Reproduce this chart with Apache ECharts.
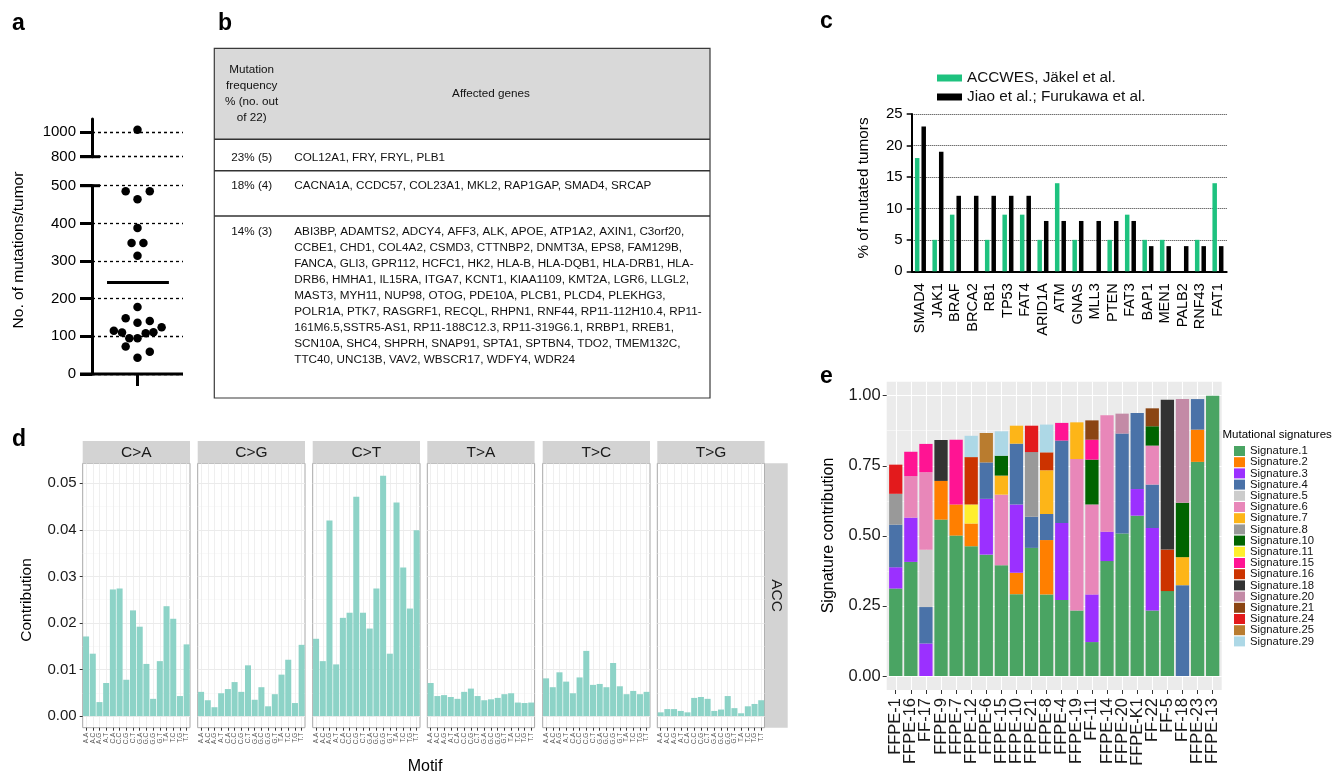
<!DOCTYPE html>
<html lang="en">
<head>
<meta charset="UTF-8">
<title>ACC mutational landscape</title>
<script src="https://cdn.jsdelivr.net/npm/echarts@6.0.0/dist/echarts.min.js"></script>
<style>
  html, body { margin: 0; padding: 0; background: #fff; }
  #fig { width: 1336px; height: 775px; }
</style>
</head>
<body>
<div id="fig"></div>
<script>
// ---------- data ----------
// a: mutations per tumor (beeswarm offsets)
const mutCounts = [1020, 485, 485, 464, 388, 348, 348, 314, 178, 148, 136, 141, 115, 110, 124, 111, 108, 95, 95, 73, 59, 43];
const mutJitter = [0, -0.26, 0.27, 0, 0, -0.13, 0.13, 0, 0, -0.26, 0, 0.27, -0.52, -0.34, 0.53, 0.35, 0.18, -0.18, 0, -0.26, 0.27, 0];
const aUpperTicks = [800, 1000];

// b: table
const freqHeader = ['Mutation', 'frequency', '% (no. out', 'of 22)'];
const freqLabels = ['23% (5)', '18% (4)', '14% (3)'];
const genes23 = ['COL12A1, FRY, FRYL, PLB1'];
const genes18 = ['CACNA1A, CCDC57, COL23A1, MKL2, RAP1GAP, SMAD4, SRCAP'];
const genes14 = [
  'ABI3BP, ADAMTS2, ADCY4, AFF3, ALK, APOE, ATP1A2, AXIN1, C3orf20,',
  'CCBE1, CHD1, COL4A2, CSMD3, CTTNBP2, DNMT3A, EPS8, FAM129B,',
  'FANCA, GLI3, GPR112, HCFC1, HK2, HLA-B, HLA-DQB1, HLA-DRB1, HLA-',
  'DRB6, HMHA1, IL15RA, ITGA7, KCNT1, KIAA1109, KMT2A, LGR6, LLGL2,',
  'MAST3, MYH11, NUP98, OTOG, PDE10A, PLCB1, PLCD4, PLEKHG3,',
  'POLR1A, PTK7, RASGRF1, RECQL, RHPN1, RNF44, RP11-112H10.4, RP11-',
  '161M6.5,SSTR5-AS1, RP11-188C12.3, RP11-319G6.1, RRBP1, RREB1,',
  'SCN10A, SHC4, SHPRH, SNAP91, SPTA1, SPTBN4, TDO2, TMEM132C,',
  'TTC40, UNC13B, VAV2, WBSCR17, WDFY4, WDR24'
];

// c: % of mutated tumors
const genesC = ['SMAD4', 'JAK1', 'BRAF', 'BRCA2', 'RB1', 'TP53', 'FAT4', 'ARID1A', 'ATM', 'GNAS', 'MLL3', 'PTEN', 'FAT3', 'BAP1', 'MEN1', 'PALB2', 'RNF43', 'FAT1'];
const accwesPct = [18, 5, 9, 0, 5, 9, 9, 5, 14, 5, 0, 5, 9, 5, 5, 0, 5, 14];
const jiaoPct = [23, 19, 12, 12, 12, 12, 12, 8, 8, 8, 8, 8, 8, 4, 4, 4, 4, 4];

// d: 96-channel profile
const mutTypes = ['C>A', 'C>G', 'C>T', 'T>A', 'T>C', 'T>G'];
const motifs = ['A.A', 'A.C', 'A.G', 'A.T', 'C.A', 'C.C', 'C.G', 'C.T', 'G.A', 'G.C', 'G.G', 'G.T', 'T.A', 'T.C', 'T.G', 'T.T'];
const contribCA = [0.0171, 0.0134, 0.0030, 0.0071, 0.0272, 0.0274, 0.0078, 0.0227, 0.0192, 0.0112, 0.0037, 0.0118, 0.0236, 0.0209, 0.0043, 0.0154];
const contribCG = [0.0052, 0.0034, 0.0019, 0.0049, 0.0058, 0.0073, 0.0052, 0.0109, 0.0035, 0.0062, 0.0021, 0.0047, 0.0089, 0.0121, 0.0028, 0.0153];
const contribCT = [0.0166, 0.0118, 0.0420, 0.0111, 0.0211, 0.0222, 0.0471, 0.0222, 0.0188, 0.0274, 0.0516, 0.0134, 0.0459, 0.0319, 0.0231, 0.0399];
const contribTA = [0.0071, 0.0043, 0.0045, 0.0041, 0.0037, 0.0052, 0.0059, 0.0043, 0.0034, 0.0036, 0.0039, 0.0047, 0.0049, 0.0029, 0.0028, 0.0029];
const contribTC = [0.0081, 0.0062, 0.0094, 0.0074, 0.0049, 0.0083, 0.0140, 0.0067, 0.0069, 0.0062, 0.0114, 0.0064, 0.0047, 0.0054, 0.0047, 0.0052];
const contribTG = [0.0008, 0.0015, 0.0015, 0.0011, 0.0008, 0.0039, 0.0041, 0.0037, 0.0011, 0.0014, 0.0043, 0.0017, 0.0006, 0.0021, 0.0026, 0.0034];
const dMajor = [0, 0.01, 0.02, 0.03, 0.04, 0.05];
const dMinor = [0.005, 0.015, 0.025, 0.035, 0.045];

// e: signature contributions per sample
const samples = ['FFPE-1', 'FFPE-16', 'FF-17', 'FFPE-9', 'FFPE-7', 'FFPE-12', 'FFPE-6', 'FFPE-15', 'FFPE-10', 'FFPE-21', 'FFPE-8', 'FFPE-4', 'FFPE-19', 'FF-11', 'FFPE-14', 'FFPE-20', 'FFPE-K1', 'FF-22', 'FF-5', 'FF-18', 'FFPE-23', 'FFPE-13'];
const signatures = ['Signature.1', 'Signature.2', 'Signature.3', 'Signature.4', 'Signature.5', 'Signature.6', 'Signature.7', 'Signature.8', 'Signature.10', 'Signature.11', 'Signature.15', 'Signature.16', 'Signature.18', 'Signature.20', 'Signature.21', 'Signature.24', 'Signature.25', 'Signature.29'];
const sig1  = [0.312, 0.407, 0, 0.558, 0.501, 0.463, 0.433, 0.395, 0.292, 0.457, 0.291, 0.271, 0.234, 0.121, 0.410, 0.508, 0.572, 0.234, 0.303, 0, 0.764, 1.0];
const sig2  = [0, 0, 0, 0.138, 0.111, 0.081, 0, 0, 0.076, 0, 0.194, 0, 0, 0, 0, 0, 0, 0, 0, 0, 0.115, 0];
const sig3  = [0.076, 0.158, 0.116, 0, 0, 0, 0.199, 0, 0.244, 0, 0, 0.275, 0, 0.170, 0.105, 0, 0.095, 0.294, 0, 0, 0, 0];
const sig4  = [0.152, 0, 0.130, 0, 0, 0, 0.130, 0, 0.217, 0.111, 0.093, 0.294, 0, 0, 0, 0.357, 0.271, 0.155, 0, 0.324, 0.109, 0];
const sig5  = [0, 0, 0.204, 0, 0, 0, 0, 0, 0, 0, 0, 0, 0, 0, 0, 0, 0, 0, 0, 0, 0, 0];
const sig6  = [0, 0.148, 0.277, 0, 0, 0, 0, 0.252, 0, 0, 0, 0, 0.540, 0.321, 0.415, 0, 0, 0.139, 0, 0, 0, 0];
const sig7  = [0, 0, 0, 0, 0, 0, 0, 0.068, 0.064, 0, 0.156, 0, 0.131, 0, 0, 0, 0, 0, 0, 0.100, 0, 0];
const sig8  = [0.110, 0, 0, 0, 0, 0, 0, 0, 0, 0.231, 0, 0, 0, 0, 0, 0, 0, 0, 0, 0, 0, 0];
const sig10 = [0, 0, 0, 0, 0, 0, 0, 0.071, 0, 0, 0, 0, 0, 0.160, 0, 0, 0, 0.069, 0, 0.194, 0, 0];
const sig11 = [0, 0, 0, 0, 0, 0.068, 0, 0, 0, 0, 0, 0, 0, 0, 0, 0, 0, 0, 0, 0, 0, 0];
const sig15 = [0, 0.087, 0.101, 0, 0.231, 0, 0, 0, 0, 0, 0, 0.063, 0, 0.071, 0, 0, 0, 0, 0, 0, 0, 0];
const sig16 = [0, 0, 0, 0, 0, 0.169, 0, 0, 0, 0, 0.064, 0, 0, 0, 0, 0, 0, 0, 0.148, 0, 0, 0];
const sig18 = [0, 0, 0, 0.146, 0, 0, 0, 0, 0, 0, 0, 0, 0, 0, 0, 0, 0, 0, 0.535, 0, 0, 0];
const sig20 = [0, 0, 0, 0, 0, 0, 0, 0, 0, 0, 0, 0, 0, 0, 0, 0.071, 0, 0, 0, 0.370, 0, 0];
const sig21 = [0, 0, 0, 0, 0, 0, 0, 0, 0, 0, 0, 0, 0, 0.069, 0, 0, 0, 0.064, 0, 0, 0, 0];
const sig24 = [0.104, 0, 0, 0, 0, 0, 0, 0, 0, 0.094, 0, 0, 0, 0, 0, 0, 0, 0, 0, 0, 0, 0];
const sig25 = [0, 0, 0, 0, 0, 0, 0.105, 0, 0, 0, 0, 0, 0, 0, 0, 0, 0, 0, 0, 0, 0, 0];
const sig29 = [0, 0, 0, 0, 0, 0.076, 0, 0.087, 0, 0, 0.099, 0, 0, 0, 0, 0, 0, 0, 0, 0, 0, 0];
const eMajor = [0, 0.25, 0.5, 0.75, 1];
const eMinor = [0.125, 0.375, 0.625, 0.875];

// ---------- styles ----------
const FONT = '"Liberation Sans", Arial, Helvetica, sans-serif';
const sigColors = ['#4aa463', '#ff7f00', '#9b30ff', '#4a72a8', '#cccccc', '#e887b9', '#fdb518', '#999999', '#006400', '#ffee2e', '#ff1493', '#cc3300', '#333333', '#c38aa6', '#8b4513', '#e31a1c', '#b97c2f', '#add8e6'];
const sigData = [sig1, sig2, sig3, sig4, sig5, sig6, sig7, sig8, sig10, sig11, sig15, sig16, sig18, sig20, sig21, sig24, sig25, sig29];
const contribByType = [contribCA, contribCG, contribCT, contribTA, contribTC, contribTG];

const grid = [], xAxis = [], yAxis = [], series = [], graphic = [];

function txt(text, x, y, o) {
  o = o || {};
  const align = o.align || 'center', va = o.va || 'middle';
  return {
    type: 'text', x: x, y: y, rotation: o.rot || 0, silent: true, z: 100,
    style: {
      text: text, fill: o.color || '#111',
      font: (o.weight || 'normal') + ' ' + (o.size || 14) + 'px ' + FONT,
      textAlign: align, align: align, textVerticalAlign: va, verticalAlign: va
    }
  };
}
function seg(x1, y1, x2, y2, w, color) {
  return { type: 'line', silent: true, z: 60, shape: { x1, y1, x2, y2 }, style: { stroke: color || '#000', lineWidth: w } };
}
function box(x, y, w, h, fill, stroke, lw, z) {
  return { type: 'rect', silent: true, z: z || 1, shape: { x, y, width: w, height: h }, style: { fill: fill || 'none', stroke: stroke || 'none', lineWidth: lw || 0 } };
}

// ---------- panel letters ----------
[['a', 12, 24], ['b', 218, 24], ['c', 820, 22], ['d', 12, 440], ['e', 820, 377]].forEach(function (l) {
  graphic.push(txt(l[0], l[1], l[2], { size: 23, weight: 'bold', align: 'left', color: '#000' }));
});

// ---------- panel a ----------
const aAxisLine = { show: true, onZero: false, lineStyle: { color: '#000', width: 3 } };
const aLabel = { fontSize: 15, color: '#000', margin: 16, fontFamily: FONT, formatter: v => String(v) };
const aDash = { show: true, lineStyle: { color: '#000', width: 1.3, type: [3, 3] } };
grid.push({ left: 92, top: 119, width: 91, height: 37.7 });
grid.push({ left: 92, top: 185.7, width: 91, height: 188.3 });
xAxis.push({ type: 'value', gridIndex: 0, min: -1, max: 1, show: false });
xAxis.push({ type: 'value', gridIndex: 1, min: -1, max: 1, show: false });
yAxis.push({ type: 'value', gridIndex: 0, min: 800, max: 1109, axisLine: aAxisLine,
  axisTick: { length: 12, customValues: aUpperTicks, lineStyle: { color: '#000', width: 3 } },
  axisLabel: Object.assign({ customValues: aUpperTicks }, aLabel), splitLine: aDash });
yAxis.push({ type: 'value', gridIndex: 1, min: 0, max: 500, interval: 100, axisLine: aAxisLine,
  axisTick: { length: 12, lineStyle: { color: '#000', width: 3 } },
  axisLabel: aLabel, splitLine: aDash });
const mutMean = mutCounts.reduce((s, v) => s + v, 0) / mutCounts.length;
const dotStyle = { color: '#000', opacity: 1 };
series.push({ type: 'scatter', xAxisIndex: 0, yAxisIndex: 0, symbolSize: 8.5, itemStyle: dotStyle, silent: true,
  data: mutCounts.map((v, i) => [mutJitter[i], v]).filter(p => p[1] > 500) });
series.push({ type: 'scatter', xAxisIndex: 1, yAxisIndex: 1, symbolSize: 8.5, itemStyle: dotStyle, silent: true,
  data: mutCounts.map((v, i) => [mutJitter[i], v]).filter(p => p[1] <= 500),
  markLine: { silent: true, symbol: 'none', label: { show: false }, lineStyle: { color: '#000', width: 3, type: 'solid', opacity: 1 },
    data: [[{ coord: [-0.67, mutMean] }, { coord: [0.69, mutMean] }]] } });
graphic.push(seg(80, 374, 183, 374, 3));
graphic.push(seg(137.5, 374, 137.5, 386, 3));
graphic.push(seg(80, 156.7, 100, 156.7, 3));
graphic.push(seg(80, 185.7, 100, 185.7, 3));
graphic.push(txt('No. of mutations/tumor', 19, 250, { size: 15.5, rot: Math.PI / 2, color: '#000' }));

// ---------- panel b (table) ----------
const T = { x0: 214.3, x1: 710, y0: 48.3, yH: 139.3, yR1: 170.7, yR2: 216, y1: 398, c1: 251.7, c2: 294.3, lh: 16 };
const tFont = 11.7;
graphic.push(box(T.x0, T.y0, T.x1 - T.x0, T.yH - T.y0, '#d9d9d9', null, 0, 1));
graphic.push(box(T.x0, T.y0, T.x1 - T.x0, T.y1 - T.y0, null, '#3a3a3a', 1.2, 5));
graphic.push(seg(T.x0, T.yH, T.x1, T.yH, 1.6, '#333'));
graphic.push(seg(T.x0, T.yR1, T.x1, T.yR1, 1.6, '#333'));
graphic.push(seg(T.x0, T.yR2, T.x1, T.yR2, 1.6, '#333'));
freqHeader.forEach((s, i) => graphic.push(txt(s, T.c1, 69.3 + i * T.lh, { size: tFont })));
graphic.push(txt('Affected genes', 491, 93.3, { size: tFont }));
const rowTops = [157.3, 186, 231.7];
[genes23, genes18, genes14].forEach(function (lines, r) {
  graphic.push(txt(freqLabels[r], T.c1, rowTops[r], { size: tFont }));
  lines.forEach((s, k) => graphic.push(txt(s, T.c2, rowTops[r] + k * T.lh, { size: tFont, align: 'left' })));
});

// ---------- panel c ----------
const gC = grid.length;
grid.push({ left: 911.7, top: 114, width: 315, height: 157.3 });
const xC = xAxis.length, yC = yAxis.length;
xAxis.push({ type: 'category', gridIndex: gC, data: genesC,
  axisLine: { onZero: false, lineStyle: { color: '#000', width: 2 } },
  axisTick: { alignWithLabel: true, interval: 0, length: 5, lineStyle: { color: '#000', width: 2 } },
  axisLabel: { interval: 0, rotate: 90, fontSize: 14.5, color: '#000', margin: 12, fontFamily: FONT } });
yAxis.push({ type: 'value', gridIndex: gC, min: 0, max: 25, interval: 5,
  axisLine: { show: true, onZero: false, lineStyle: { color: '#000', width: 2 } },
  axisTick: { show: true, length: 5, lineStyle: { color: '#000', width: 1.5 } },
  axisLabel: { fontSize: 15, color: '#000', margin: 9, fontFamily: FONT },
  splitLine: { show: true, lineStyle: { color: '#333', width: 1, type: 'dotted' } } });
series.push({ name: 'ACCWES, Jäkel et al.', type: 'bar', xAxisIndex: xC, yAxisIndex: yC, data: accwesPct,
  barWidth: 4.5, barGap: '45%', itemStyle: { color: '#1ec27f' }, silent: true });
series.push({ name: 'Jiao et al.; Furukawa et al.', type: 'bar', xAxisIndex: xC, yAxisIndex: yC, data: jiaoPct,
  barWidth: 4.5, barGap: '45%', itemStyle: { color: '#000' }, silent: true });
graphic.push(txt('% of mutated tumors', 864, 188, { size: 15.3, rot: Math.PI / 2, color: '#000' }));

// ---------- panel d ----------
const D = { lefts: [82.7, 197.7, 312.7, 427.3, 542.7, 657.3], w: 107.3, top: 463.3, h: 264.4, stripTop: 441 };
const centers16 = motifs.map((m, i) => i);
mutTypes.forEach(function (mt, i) {
  const gi = grid.length;
  grid.push({ left: D.lefts[i], top: D.top, width: D.w, height: D.h, show: true, backgroundColor: '#fff', borderColor: '#a8a8a8', borderWidth: 1 });
  const xi = xAxis.length, yi = yAxis.length;
  xAxis.push({ type: 'category', gridIndex: gi, data: motifs,
    axisLine: { show: false, onZero: false },
    axisTick: { show: true, alignWithLabel: true, interval: 0, length: 3, lineStyle: { color: '#333', width: 1 } },
    axisLabel: { interval: 0, rotate: 90, fontSize: 6.5, color: '#555', margin: 5, fontFamily: FONT } });
  xAxis.push({ type: 'value', gridIndex: gi, min: -0.5, max: 15.5,
    axisLine: { show: false, onZero: false }, axisTick: { show: false, customValues: centers16 },
    axisLabel: { show: false, customValues: centers16 },
    splitLine: { show: true, lineStyle: { color: '#ebebeb', width: 0.8 } } });
  yAxis.push({ type: 'value', gridIndex: gi, min: -0.0025, max: 0.0543,
    axisLine: { show: false, onZero: false },
    axisTick: { show: i === 0, length: 3, customValues: dMajor, lineStyle: { color: '#333' } },
    axisLabel: { show: i === 0, customValues: dMajor, formatter: v => v.toFixed(2), fontSize: 15, color: '#1a1a1a', margin: 6, fontFamily: FONT },
    splitLine: { show: true, lineStyle: { color: '#ebebeb', width: 1 } } });
  yAxis.push({ type: 'value', gridIndex: gi, min: -0.0025, max: 0.0543,
    axisLine: { show: false, onZero: false }, axisTick: { show: false, customValues: dMinor },
    axisLabel: { show: false, customValues: dMinor },
    splitLine: { show: true, lineStyle: { color: '#f5f5f5', width: 0.6 } } });
  series.push({ type: 'bar', xAxisIndex: xi, yAxisIndex: yi, data: contribByType[i], barCategoryGap: '10%',
    itemStyle: { color: '#8dd3c7' }, silent: true });
  graphic.push(box(D.lefts[i], D.stripTop, D.w, D.top - D.stripTop, '#d3d3d3', null, 0, 1));
  graphic.push(txt(mt, D.lefts[i] + D.w / 2, (D.stripTop + D.top) / 2 + 0.5, { size: 15.5, color: '#1a1a1a' }));
});
graphic.push(box(765, D.top, 22.7, D.h, '#d3d3d3', null, 0, 1));
graphic.push(txt('ACC', 776.3, D.top + D.h / 2, { size: 15.5, rot: -Math.PI / 2, color: '#1a1a1a' }));
graphic.push(txt('Contribution', 27, 600, { size: 15.5, rot: Math.PI / 2, color: '#000' }));
graphic.push(txt('Motif', 425, 767, { size: 16, color: '#000' }));

// ---------- panel e ----------
const E = { left: 886.7, top: 381.7, w: 335, h: 308.3, pad: 1.5 };
const gEb = grid.length;
grid.push({ left: E.left, top: E.top, width: E.w, height: E.h, show: true, backgroundColor: '#ebebeb', borderWidth: 0 });
const sampleIdx = samples.map((s, i) => i);
xAxis.push({ type: 'value', gridIndex: gEb, min: -0.6, max: 21.6,
  axisLine: { show: false, onZero: false }, axisTick: { show: false, customValues: sampleIdx },
  axisLabel: { show: false, customValues: sampleIdx },
  splitLine: { show: true, lineStyle: { color: '#fff', width: 1.1 } } });
yAxis.push({ type: 'value', gridIndex: gEb, min: -0.05, max: 1.05,
  axisLine: { show: false, onZero: false },
  axisTick: { show: true, length: 4, customValues: eMajor, lineStyle: { color: '#333' } },
  axisLabel: { customValues: eMajor, formatter: v => v.toFixed(2), fontSize: 16.5, color: '#1a1a1a', margin: 6, fontFamily: FONT },
  splitLine: { show: true, lineStyle: { color: '#fff', width: 1.2 } } });
yAxis.push({ type: 'value', gridIndex: gEb, min: -0.05, max: 1.05,
  axisLine: { show: false, onZero: false }, axisTick: { show: false, customValues: eMinor },
  axisLabel: { show: false, customValues: eMinor },
  splitLine: { show: true, lineStyle: { color: '#fff', width: 0.5 } } });
const gE = grid.length;
grid.push({ left: E.left + E.pad, top: E.top, width: E.w - 2 * E.pad, height: E.h });
const xE = xAxis.length, yE = yAxis.length;
xAxis.push({ type: 'category', gridIndex: gE, data: samples,
  axisLine: { show: false, onZero: false },
  axisTick: { show: true, alignWithLabel: true, interval: 0, length: 4, lineStyle: { color: '#333' } },
  axisLabel: { interval: 0, rotate: 90, fontSize: 16.5, color: '#1a1a1a', margin: 8, fontFamily: FONT } });
yAxis.push({ type: 'value', gridIndex: gE, min: -0.05, max: 1.05, show: false });
signatures.forEach(function (name, k) {
  series.push({ name: name, type: 'bar', stack: 'sig', xAxisIndex: xE, yAxisIndex: yE, data: sigData[k],
    barCategoryGap: '12%', itemStyle: { color: sigColors[k] }, silent: true });
});
graphic.push(txt('Signature contribution', 828.5, 535.5, { size: 16, rot: Math.PI / 2, color: '#000' }));
graphic.push(txt('Mutational signatures', 1222.5, 435, { size: 11.5, align: 'left', color: '#000' }));

// ---------- render ----------
const chart = echarts.init(document.getElementById('fig'), null, { width: 1336, height: 775 });
chart.setOption({
  animation: false,
  textStyle: { fontFamily: FONT },
  grid: grid,
  xAxis: xAxis,
  yAxis: yAxis,
  series: series,
  legend: [
    { data: ['ACCWES, Jäkel et al.', 'Jiao et al.; Furukawa et al.'], orient: 'vertical', left: 932, top: 65.5,
      itemWidth: 25, itemHeight: 7, itemGap: 4, icon: 'rect', selectedMode: false,
      textStyle: { fontSize: 15.3, color: '#111', fontFamily: FONT } },
    { data: signatures, orient: 'vertical', left: 1229, top: 440.5, itemWidth: 11, itemHeight: 10, itemGap: 0.2,
      icon: 'rect', selectedMode: false, textStyle: { fontSize: 11.3, color: '#111', fontFamily: FONT } }
  ],
  graphic: graphic
});
</script>
</body>
</html>
